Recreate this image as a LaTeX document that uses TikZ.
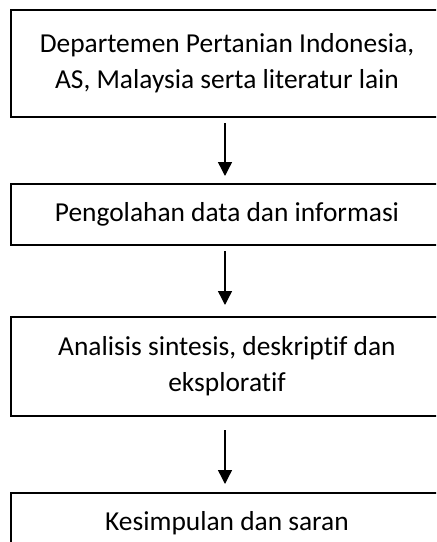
\documentclass[tikz,border=0pt]{standalone}
\usepackage{fontspec}
\setmainfont{Carlito}[Ligatures=NoCommon]
\usetikzlibrary{arrows.meta}
\definecolor{Ink}{HTML}{000000}

\begin{document}
\begin{tikzpicture}[x=0.5pt,y=-0.5pt,
    kotak/.style={draw=Ink,line width=1pt,minimum width=216pt,inner sep=0pt,align=center,
      font=\fontsize{13.7}{18}\selectfont},
    panah/.style={draw=Ink,line width=0.7pt,-{Triangle[length=7pt,width=7pt]}}]
        \clip (0,0) rectangle (436,542);
        \foreach \nm/\y/\h/\lab in {b1/63.5/53.5/{Departemen Pertanian Indonesia,\\AS, Malaysia serta literatur lain},
          b2/214.5/30.5/{Pengolahan data dan informasi},
          b3/366.5/49.5/{Analisis sintesis, deskriptif dan\\eksploratif},
          b4/523.5/30.5/{Kesimpulan dan saran}}{
          \node[kotak,minimum height=\h pt] (\nm) at (227,\y) {\lab};
        }
        \foreach \a/\b/\s/\t in {b1/b2/2.5/3.5,b2/b3/2.5/5.5,b3/b4/6.5/4}{
          \draw[panah,shorten <=\s pt,shorten >=\t pt] ([xshift=-1pt]\a.south) -- ([xshift=-1pt]\b.north);
        }
      \end{tikzpicture}
\end{document}
